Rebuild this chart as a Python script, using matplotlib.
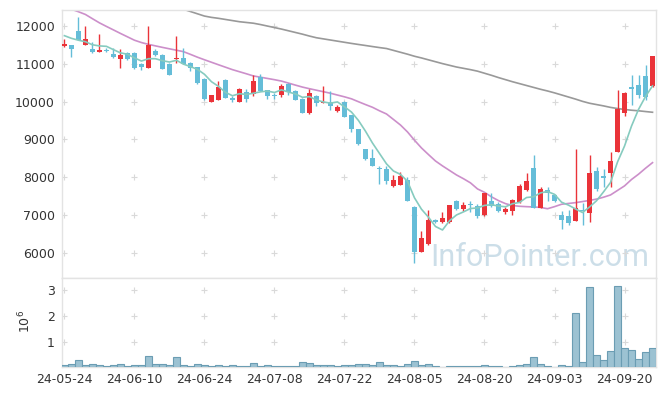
import matplotlib
matplotlib.use("Agg")
import matplotlib.pyplot as plt
import numpy as np

# daily OHLC (KRW), one entry per trading day 24-05-24 .. 24-09-26
opens = [11470, 11500, 11875, 11512, 11390, 11327, 11370, 11266, 11133, 11284,
         11292, 11001, 10895, 11345, 11240, 11001, 11135, 11160, 11020, 10912,
         10603, 10002, 10055, 10577, 10108, 10002, 10253, 10200, 10667, 10307,
         10165, 10190, 10465, 10280, 10073, 9695, 10147, 9975, 10002, 9748,
         10002, 9640, 9278, 8749, 8510, 8245, 8218, 7776, 7803, 7927,
         7211, 6030, 6223, 6867, 6822, 6822, 7380, 7164, 7275, 7250,
         6990, 7380, 7290, 7080, 7113, 7350, 7660, 8250, 7195, 7660,
         7530, 7000, 6973, 6840, 7120, 7045, 8165, 8030, 8105, 8670,
         9710, 10390, 10445, 10683, 10425]
highs = [11650, 11500, 12238, 12000, 11592, 11796, 11425, 11425, 11390, 11320,
         11310, 11037, 12000, 11390, 11260, 11020, 11743, 11425, 11050, 10930,
         10620, 10190, 10550, 10600, 10150, 10360, 10333, 10700, 10728, 10320,
         10240, 10465, 10500, 10300, 10090, 10330, 10190, 10430, 10290, 9915,
         10020, 9660, 9290, 8760, 8749, 8306, 8306, 8068, 8130, 8000,
         7230, 6575, 7124, 6900, 7071, 7270, 7400, 7340, 7380, 7290,
         7590, 7590, 7340, 7210, 7420, 7820, 8105, 8590, 7730, 7730,
         7560, 7113, 7132, 8740, 7315, 8590, 8260, 8230, 8670, 10310,
         10270, 10710, 10710, 10975, 11213]
lows = [11460, 11194, 11637, 11500, 11300, 11327, 11320, 11160, 10903, 11110,
        10880, 10842, 10895, 11220, 10860, 10700, 11035, 10990, 10825, 10480,
        10050, 9990, 10040, 10100, 10000, 10000, 10002, 10160, 10280, 10065,
        10065, 10135, 10190, 10040, 9700, 9680, 9890, 9960, 9770, 9740,
        9590, 9207, 8860, 8450, 8290, 7820, 7830, 7740, 7790, 7370,
        5720, 6020, 6200, 6780, 6800, 6800, 7130, 7100, 7090, 6930,
        6960, 7210, 7080, 7030, 6990, 7310, 7640, 7180, 7180, 7380,
        7350, 6620, 6735, 6840, 6735, 6825, 7630, 7750, 7750, 8660,
        9620, 9915, 10090, 10047, 10390]
closes = [11523, 11405, 11637, 11663, 11319, 11372, 11350, 11194, 11240, 11133,
          10895, 10930, 11504, 11240, 10868, 10717, 11160, 11001, 10905, 10505,
          10065, 10181, 10386, 10108, 10055, 10333, 10082, 10550, 10290, 10160,
          10145, 10430, 10253, 10046, 9710, 10240, 9975, 10000, 9888, 9870,
          9596, 9278, 8881, 8475, 8298, 8220, 7900, 7927, 8033, 7380,
          6030, 6390, 6867, 6810, 6911, 7254, 7160, 7277, 7255, 6985,
          7590, 7250, 7100, 7160, 7390, 7762, 7900, 7195, 7680, 7575,
          7380, 6867, 6800, 7180, 7100, 8110, 7690, 7975, 8430, 9810,
          10225, 10340, 10180, 10135, 11213]
# volume in millions of shares
volumes = [0.08, 0.12, 0.29, 0.08, 0.12, 0.08, 0.04, 0.08, 0.12, 0.04,
           0.08, 0.08, 0.43, 0.12, 0.12, 0.08, 0.39, 0.08, 0.04, 0.12,
           0.08, 0.04, 0.08, 0.04, 0.08, 0.04, 0.04, 0.16, 0.04, 0.08,
           0.04, 0.04, 0.04, 0.04, 0.21, 0.17, 0.08, 0.08, 0.08, 0.04,
           0.08, 0.08, 0.12, 0.12, 0.08, 0.20, 0.08, 0.08, 0.04, 0.12,
           0.24, 0.08, 0.12, 0.04, 0.01, 0.04, 0.04, 0.04, 0.04, 0.04,
           0.08, 0.04, 0.04, 0.01, 0.04, 0.08, 0.12, 0.39, 0.12, 0.04,
           0.01, 0.08, 0.04, 2.10, 0.20, 3.11, 0.47, 0.28, 0.63, 3.15,
           0.74, 0.67, 0.32, 0.59, 0.74]

# moving averages as drawn on the chart
ma5 = [11750, 11680, 11630, 11590, 11509, 11479, 11468, 11380, 11295, 11258,
       11162, 11078, 11140, 11140, 11087, 11052, 11098, 10997, 10930, 10858,
       10727, 10531, 10408, 10249, 10159, 10213, 10193, 10226, 10262, 10283,
       10245, 10315, 10256, 10207, 10117, 10136, 10045, 9994, 9963, 9995,
       9866, 9726, 9503, 9220, 8906, 8630, 8355, 8164, 8076, 7892,
       7454, 7152, 6940, 6695, 6602, 6846, 7000, 7082, 7171, 7186,
       7253, 7271, 7236, 7217, 7298, 7332, 7462, 7481, 7585, 7622,
       7546, 7339, 7260, 7160, 7065, 7211, 7376, 7611, 7861, 8403,
       8826, 9356, 9797, 10138, 10419]
ma20 = [12540, 12450, 12385, 12312, 12200, 12090, 11995, 11903, 11810, 11720,
        11630, 11568, 11520, 11480, 11440, 11402, 11365, 11327, 11255, 11180,
        11112, 11046, 10980, 10915, 10850, 10795, 10740, 10683, 10650, 10617,
        10584, 10547, 10494, 10440, 10388, 10345, 10305, 10265, 10225, 10177,
        10130, 10077, 10000, 9925, 9853, 9760, 9676, 9530, 9383, 9200,
        8980, 8775, 8600, 8430, 8300, 8180, 8060, 7960, 7850, 7690,
        7600, 7480, 7380, 7300, 7250, 7230, 7220, 7212, 7200, 7165,
        7220, 7283, 7305, 7326, 7355, 7385, 7420, 7470, 7530, 7650,
        7770, 7940, 8080, 8238, 8386]
ma60_start = 17
ma60 = [12450, 12390, 12330, 12270, 12235, 12210, 12180, 12150, 12120, 12100,
        12080, 12045, 12005, 11965, 11925, 11880, 11835, 11790, 11740, 11695,
        11665, 11635, 11605, 11575, 11545, 11517, 11490, 11462, 11435, 11410,
        11360, 11310, 11260, 11205, 11160, 11110, 11060, 11010, 10965, 10920,
        10885, 10850, 10810, 10755, 10700, 10640, 10585, 10530, 10480, 10430,
        10380, 10330, 10285, 10235, 10180, 10125, 10070, 10010, 9960, 9925,
        9890, 9850, 9820, 9795, 9775, 9760, 9740, 9721]

tick_pos = [0, 10, 20, 30, 40, 50, 60, 70, 80]
tick_labels = ["24-05-24", "24-06-10", "24-06-24", "24-07-08", "24-07-22",
               "24-08-05", "24-08-20", "24-09-03", "24-09-20"]
price_ticks = [6000, 7000, 8000, 9000, 10000, 11000, 12000]
vol_ticks = [1, 2, 3]

UP = "#ea3339"
DOWN = "#65bdd8"
GRID = "#d9d9d9"
FRAME = "#e3e3e3"

plt.rcParams["font.family"] = ["DejaVu Sans"]

fig = plt.figure(figsize=(6.65, 3.96), dpi=100)
ax = fig.add_axes([0.0932, 0.298, 0.8933, 0.6767])
axv = fig.add_axes([0.0932, 0.072, 0.8933, 0.226], sharex=ax)

x = np.arange(len(closes))
o = np.array(opens, dtype=float)
c = np.array(closes, dtype=float)
up = c >= o
colors = np.where(up, UP, DOWN)

ax.vlines(x, lows, highs, colors=colors, linewidth=1.0, zorder=3)
body_bottom = np.minimum(o, c)
body_height = np.maximum(np.abs(c - o), 30)
ax.bar(x, body_height, bottom=body_bottom, width=0.68, color=colors,
       linewidth=0, zorder=4)

ax.plot(x, ma5, color="#86cbbf", linewidth=1.2, zorder=5)
ax.plot(x, ma20, color="#cc8fca", linewidth=1.2, zorder=2)
ax.plot(np.arange(ma60_start, ma60_start + len(ma60)), ma60,
        color="#999999", linewidth=1.2, zorder=2)

ax.text(0.988, 0.043, "InfoPointer.com", transform=ax.transAxes,
        ha="right", va="baseline", fontsize=22, family="Roboto",
        color="#c4d9e5", alpha=0.85, zorder=1)

axv.bar(x, volumes, width=1.0, color="#9cc2d2", edgecolor="#6b9db3",
        linewidth=0.8, zorder=3)

ax.set_xlim(-0.35, 84.5)
ax.set_ylim(5330, 12430)
axv.set_ylim(0, 3.47)

for a, yt in ((ax, price_ticks), (axv, vol_ticks)):
    gx, gy = np.meshgrid(tick_pos, yt)
    a.scatter(gx.ravel(), gy.ravel(), marker="+", s=22, color=GRID,
              linewidths=0.8, zorder=1)
    a.set_yticks(yt)
    for s in a.spines.values():
        s.set_color(FRAME)
        s.set_linewidth(1.0)
    a.tick_params(length=0, labelsize=9, colors="#333333", pad=5)

ax.tick_params(axis="x", labelbottom=False)
axv.set_xticks(tick_pos)
axv.set_xticklabels(tick_labels)
axv.tick_params(axis="x", pad=4)
axv.set_ylabel(r"$10^6$", fontsize=9, color="#333333")
axv.yaxis.set_label_coords(-0.049, 0.51)

fig.savefig("out.png", dpi=100)
